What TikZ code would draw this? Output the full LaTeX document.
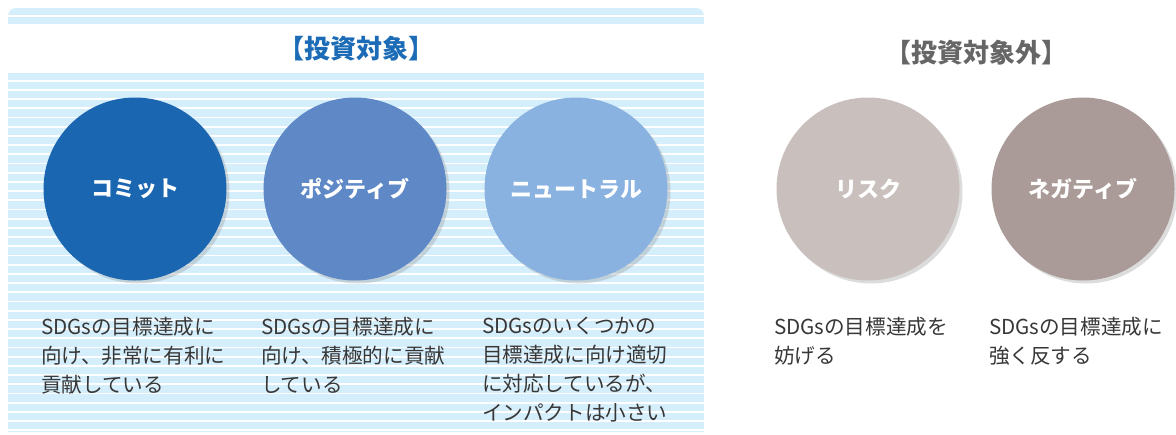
\documentclass[tikz,border=0pt]{standalone}
\usepackage{fontspec}
\setmainfont{Noto Sans CJK JP}
\usepackage{tikz}
\usetikzlibrary{positioning,shadows}
\definecolor{stripe}{RGB}{213,238,251}
\definecolor{titleblue}{RGB}{27,107,182}
\definecolor{titlegray}{RGB}{102,102,102}
\definecolor{notegray}{RGB}{55,55,55}
\definecolor{commitblue}{RGB}{27,102,177}
\definecolor{positiveblue}{RGB}{95,137,198}
\definecolor{neutralblue}{RGB}{137,178,224}
\definecolor{riskgray}{RGB}{201,192,190}
\definecolor{negativegray}{RGB}{170,155,152}

\tikzset{
  bubble/.style={circle, minimum size=91.5pt, inner sep=0pt, text=white,
    font=\fontsize{11pt}{13pt}\selectfont\bfseries,
    drop shadow={shadow xshift=1.5pt, shadow yshift=-1.5pt, opacity=.3, fill=black!45}},
  note/.style={text width=94pt, align=left, inner sep=0pt, text=notegray,
    font=\fontsize{10.3pt}{14.5pt}\selectfont},
  headline/.style={inner sep=0pt, font=\fontsize{13pt}{15pt}\selectfont\bfseries},
  node distance=18pt
}

\begin{document}
\begin{tikzpicture}[x=0.5pt,y=-0.5pt]
\useasboundingbox (0,0) rectangle (1176,434);
% Striped panel
\begin{scope}
\clip (8,432) [rounded corners=4pt] -- (8,8) -- (704,8) [sharp corners] -- (704,432) -- cycle;
\foreach \k in {0,...,46}
  \fill[stripe] (8,{8+9.2*\k}) rectangle (704,{8+9.2*\k+7.4});
\end{scope}
\fill[white] (8,24) rectangle (704,73); % title band
% Titles
\node[headline, text=titleblue] (targettitle) at (356,49) {【投資対象】};
\node[headline, text=titlegray] (othertitle) at (976,53) {【投資対象外】};
% Circles
\node[bubble, fill=commitblue] (commit) at (135,189) {コミット};
\node[bubble, fill=positiveblue] (positive) at (355,189) {ポジティブ};
\node[bubble, fill=neutralblue] (neutral) at (576,189) {ニュートラル};
\node[bubble, fill=riskgray] (risk) at (868,189) {リスク};
\node[bubble, fill=negativegray] (negative) at (1083,189) {ネガティブ};
% Notes
\node[note, below=of commit] (commitnote) {SDGsの目標達成に\\向け、非常に有利に\\貢献している};
\node[note, below=of positive] (positivenote) {SDGsの目標達成に\\向け、積極的に貢献\\している};
\node[note, below=of neutral] (neutralnote) {SDGsのいくつかの\\目標達成に向け適切\\に対応しているが、\\インパクトは小さい};
\node[note, below=of risk] (risknote) {SDGsの目標達成を\\妨げる};
\node[note, below=of negative] (negativenote) {SDGsの目標達成に\\強く反する};
\end{tikzpicture}
\end{document}
